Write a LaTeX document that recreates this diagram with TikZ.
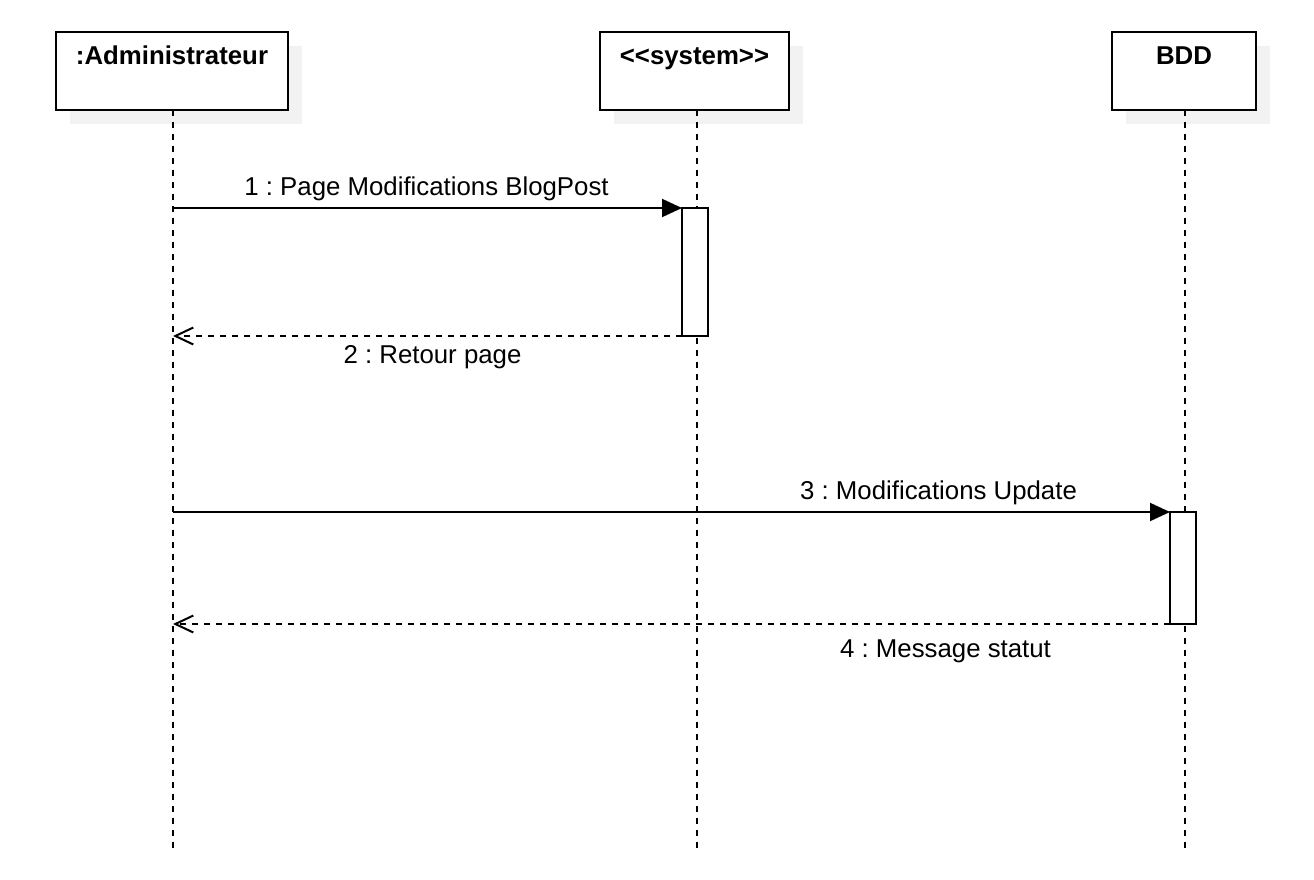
\documentclass[tikz,border=0pt]{standalone}
\usepackage{fontspec}
\setmainfont{Liberation Sans}[Ligatures=TeXOff]
\usetikzlibrary{arrows.meta}
\frenchspacing
\definecolor{shadowgray}{RGB}{242,242,242}
\tikzset{
  lifebox/.style={draw=black,line width=2pt,fill=white,outer sep=0pt},
  lifeline/.style={line width=2pt,dash pattern=on 6pt off 6pt},
  actbox/.style={draw=black,line width=2pt,fill=white,outer sep=0pt},
  callmsg/.style={line width=2pt,-{Triangle[length=20pt,width=18pt]}},
  retmsg/.style={line width=2pt,dash pattern=on 6pt off 6pt,-{Straight Barb[length=18pt,width=17pt,line width=2pt]}},
  title/.style={font=\fontsize{25.8}{30}\selectfont\bfseries,anchor=base},
  lbl/.style={font=\fontsize{25.8}{30}\selectfont,anchor=base}
}
\begin{document}
\begin{tikzpicture}[x=1pt,y=-1pt]
\useasboundingbox (0,0) rectangle (1314,880);
% shadows
\fill[shadowgray] (70,46) rectangle (302,124);
\fill[shadowgray] (614,46) rectangle (803,124);
\fill[shadowgray] (1126,46) rectangle (1270,124);
% lifelines
\coordinate (admB) at (173,848);
\coordinate (sysB) at (697,848);
\coordinate (bddB) at (1185,848);
\draw[lifeline] (173,110) -- (admB);
\draw[lifeline] (697,110) -- (sysB);
\draw[lifeline] (1185,110) -- (bddB);
% heads
\node[lifebox,minimum width=232pt,minimum height=78pt,inner sep=0pt] (adm) at (172,71) {};
\node[lifebox,minimum width=189pt,minimum height=78pt,inner sep=0pt] (sys) at (694.5,71) {};
\node[lifebox,minimum width=144pt,minimum height=78pt,inner sep=0pt] (bdd) at (1184,71) {};
\node[title] (admt) at (172,65) {:Administrateur};
\node[title] (syst) at (694.5,65) {<<system>>};
\node[title] (bddt) at (1184,65) {BDD};
% activations
\node[actbox,minimum width=26pt,minimum height=128pt,inner sep=0pt,anchor=north west] (act1) at (682,208) {};
\node[actbox,minimum width=26pt,minimum height=112pt,inner sep=0pt,anchor=north west] (act2) at (1170,512) {};
% message anchor points on the admin lifeline
\coordinate (a1) at (173,208);
\coordinate (a2) at (173,336);
\coordinate (a3) at (173,512);
\coordinate (a4) at (173,624);
\draw[callmsg] (a1) -- (act1.north west);
\draw[retmsg] (act1.south west) -- (a2);
\draw[callmsg] (a3) -- (act2.north west);
\draw[retmsg] (act2.south west) -- (a4);
% labels
\node[lbl] (l1) at (426.5,195) {1 : Page Modifications BlogPost};
\node[lbl] (l2) at (432.5,363) {2 : Retour page};
\node[lbl] (l3) at (938.5,499) {3 : Modifications Update};
\node[lbl] (l4) at (945.5,657) {4 : Message statut};
\end{tikzpicture}
\end{document}
